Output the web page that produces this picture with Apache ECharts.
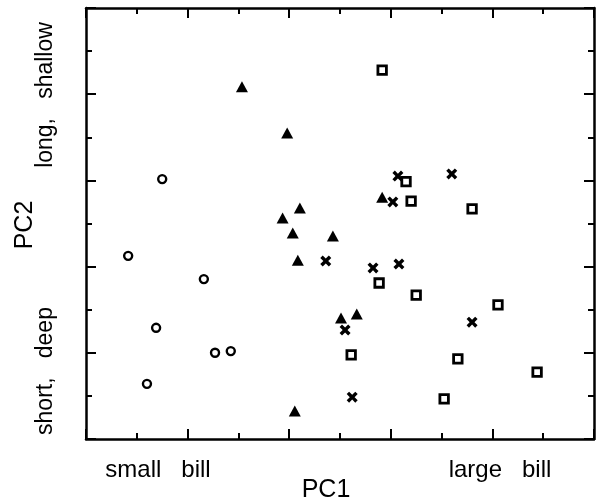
<!DOCTYPE html>
<html>
<head>
<meta charset="utf-8">
<script src="https://cdn.jsdelivr.net/npm/echarts@6/dist/echarts.min.js"></script>
<style>html,body{margin:0;padding:0;background:#fff}#c{width:600px;height:503px}</style>
</head>
<body>
<div id="c"></div>
<script>
// PC1 / PC2 scores per group (axis units 0..10)
var circles = [[0.83,4.25],[1.50,6.03],[1.38,2.58],[1.20,1.28],[2.32,3.71],[2.54,2.00],[2.85,2.04]];
var triangles = [[3.07,8.17],[3.96,7.10],[3.87,5.13],[4.21,5.36],[4.07,4.78],[4.17,4.15],[4.86,4.71],[5.83,5.61],[5.02,2.81],[5.33,2.90],[4.11,0.65]];
var crosses = [[4.72,4.13],[5.65,3.97],[6.16,4.06],[5.10,2.53],[7.60,2.71],[5.24,0.97],[6.14,6.10],[6.04,5.50],[7.20,6.15]];
var squares = [[5.83,8.56],[6.30,5.97],[6.40,5.52],[7.60,5.34],[5.77,3.62],[6.50,3.34],[8.11,3.11],[5.22,1.95],[7.32,1.86],[8.88,1.55],[7.05,0.93]];
var xLabels = ['small   bill','large   bill'];
var yLabels = ['short,   deep','long,   shallow'];
var xTitle = 'PC1', yTitle = 'PC2';

var FONT = "'Liberation Sans', Arial, Helvetica, sans-serif";
var chart = echarts.init(document.getElementById('c'), null, {renderer:'canvas'});
function axisCommon(pos){
  return {
    type:'value', min:0, max:10, interval:2, position:pos,
    axisLine:{show:true, onZero:false, lineStyle:{color:'#000', width:2.5}},
    axisTick:{show:true, inside:true, length:10, lineStyle:{color:'#000', width:2}},
    minorTick:{show:true, splitNumber:2, length:6, lineStyle:{color:'#000', width:2}},
    axisLabel:{show:false}, splitLine:{show:false}, minorSplitLine:{show:false}
  };
}
var crossPath = 'path://M0,2.2L2.2,0L5,2.8L7.8,0L10,2.2L7.2,5L10,7.8L7.8,10L5,7.2L2.2,10L0,7.8L2.8,5Z';
chart.setOption({
  animation:false,
  backgroundColor:'#fff',
  grid:{left:86, top:8, right:6, bottom:64, containLabel:false},
  xAxis:[axisCommon('bottom'), axisCommon('top')],
  yAxis:[axisCommon('left'), axisCommon('right')],
  series:[
    {type:'scatter', data:circles, symbol:'circle', symbolSize:8,
     itemStyle:{color:'#fff', borderColor:'#000', borderWidth:2.4, opacity:1}},
    {type:'scatter', data:triangles, symbol:'triangle', symbolSize:[12,11],
     itemStyle:{color:'#000', opacity:1}},
    {type:'scatter', data:crosses, symbol:crossPath, symbolSize:11,
     itemStyle:{color:'#000', opacity:1}},
    {type:'scatter', data:squares, symbol:'rect', symbolSize:8.5,
     itemStyle:{color:'#fff', borderColor:'#000', borderWidth:2.8, opacity:1}}
  ],
  graphic:[
    {type:'text', x:158, y:470, style:{text:xLabels[0], font:'24px '+FONT, fill:'#000', align:'center', verticalAlign:'middle'}},
    {type:'text', x:500, y:470, style:{text:xLabels[1], font:'24px '+FONT, fill:'#000', align:'center', verticalAlign:'middle'}},
    {type:'text', x:326, y:490, style:{text:xTitle, font:'25px '+FONT, fill:'#000', align:'center', verticalAlign:'middle'}},
    {type:'text', x:46, y:371, rotation:Math.PI/2, style:{text:yLabels[0], font:'23px '+FONT, fill:'#000', align:'center', verticalAlign:'middle'}},
    {type:'text', x:46, y:95, rotation:Math.PI/2, style:{text:yLabels[1], font:'23px '+FONT, fill:'#000', align:'center', verticalAlign:'middle'}},
    {type:'text', x:25, y:225, rotation:Math.PI/2, style:{text:yTitle, font:'25px '+FONT, fill:'#000', align:'center', verticalAlign:'middle'}}
  ]
});
</script>
</body>
</html>
